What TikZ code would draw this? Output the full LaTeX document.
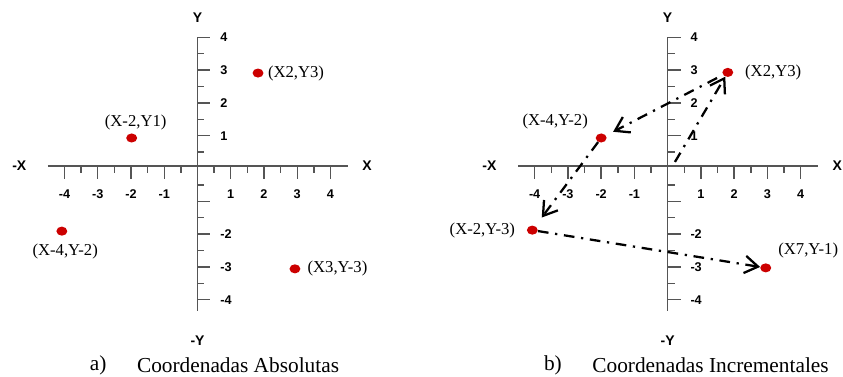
\documentclass[tikz,border=0pt]{standalone}
\usepackage{fontspec}
\setmainfont{Liberation Serif}
\setsansfont{Liberation Sans}
\usetikzlibrary{arrows.meta, positioning, shapes.geometric}
\definecolor{axis_colour}{RGB}{85, 85, 85}
\definecolor{point_colour}{RGB}{204, 0, 0}

\begin{document}
\begin{tikzpicture}[
    x=0.8765cm, y=0.8646cm,
    axisline/.style={draw=axis_colour, line width=1.1pt},
    num/.style={font=\sffamily\bfseries\fontsize{9.5}{10}\selectfont, inner sep=0pt},
    axlbl/.style={font=\sffamily\bfseries\fontsize{10.5}{12}\selectfont, inner sep=0pt},
    ptdot/.style={ellipse, fill=point_colour, minimum width=8.2pt, minimum height=6.8pt, inner sep=0pt},
    ptlbl/.style={font=\fontsize{12.5}{14}\selectfont, inner sep=0pt},
    captxt/.style={font=\fontsize{16}{18}\selectfont, inner sep=0pt},
    move/.style={-{Straight Barb[length=10pt, width=13pt]}, line width=1.7pt,
                 dash pattern=on 8pt off 5pt on 1.7pt off 5pt},
]
\useasboundingbox (-5.94,-6.357) rectangle (19.414,5.137);

% the two sets of axes
\foreach \ox/\s in {0/a, 14.14/b} {
  \begin{scope}[shift={(\ox,0)}]
    \draw[axisline] (-4.5,0.075) -- (4.53,0.075);
    \draw[axisline] (0,4) -- (0,-4.34);
    \foreach \i in {-4,-3,-2,-1,1,2,3,4} {
      \draw[axisline] (\i,0.075) -- ++(0,-0.4);
      \draw[axisline] (0,\i) -- ++(0.39,0);
      \node[num] (\s xl\i) at (\i,-0.78) {\i};
    }
    \foreach \i in {-3.5,-2.5,-1.5,-0.5,0.5,1.5,2.5,3.5} {
      \draw[axisline] (\i,0.075) -- ++(0,-0.21);
      \draw[axisline] (0,\i) -- ++(0.21,0);
    }
    \foreach \i in {-4,-3,-2,1,2,3,4}
      \node[num, anchor=west] (\s yl\i) at (0.68,\i) {\i};
    \node[axlbl] (\s Y)  at (0,4.59)        {Y};
    \node[axlbl] (\s nY) at (0,-5.26)       {-Y};
    \node[axlbl] (\s nX) at (-5.36,0.075)   {-X};
    \node[axlbl] (\s X)  at (5.1,0.075)     {X};
  \end{scope}
}

% a) absolute
\node[ptdot] (a1) at (1.82, 2.91)  {};
\node[ptdot] (a2) at (-1.98, 0.93) {};
\node[ptdot] (a3) at (-4.08,-1.91) {};
\node[ptdot] (a4) at (2.93,-3.06)  {};
\node[ptlbl, right=3pt of a1]              (a1lbl) {(X2,Y3)};
\node[ptlbl, above=2.5pt of a2, xshift=3pt] (a2lbl) {(X-2,Y1)};
\node[ptlbl, below=6pt of a3, xshift=2.5pt] (a3lbl) {(X-4,Y-2)};
\node[ptlbl, right=5pt of a4]              (a4lbl) {(X3,Y-3)};
\node[captxt] (capa)    at (-2.99,-5.99) {a)};
\node[captxt] (capatxt) at (1.22,-5.99)  {Coordenadas Absolutas};

% b) incremental
\coordinate (b0) at (14.36,0.2);
\node[ptdot] (b1) at (15.95, 2.93) {};
\node[ptdot] (b2) at (12.14, 0.93) {};
\node[ptdot] (b3) at (10.07,-1.88) {};
\node[ptdot] (b4) at (17.09,-3.03) {};
\node[ptlbl, right=8.5pt of b1]              (b1lbl) {(X2,Y3)};
\node[ptlbl, left=5.5pt of b2, yshift=12pt]  (b2lbl) {(X-4,Y-2)};
\node[ptlbl, left=8.5pt of b3]               (b3lbl) {(X-2,Y-3)};
\node[ptlbl, right=5pt of b4, yshift=12.75pt] (b4lbl) {(X7,Y-1)};
\node[captxt] (capb)    at (10.69,-5.99) {b)};
\node[captxt] (capbtxt) at (15.43,-5.99) {Coordenadas Incrementales};

\draw[move] (b0) -- (b1);
\draw[move, shorten <=5pt, shorten >=6pt] (b1) -- (b2);
\draw[move, shorten >=8pt] (b2) -- (b3);
\draw[move] (b3) -- (b4);
\end{tikzpicture}
\end{document}
